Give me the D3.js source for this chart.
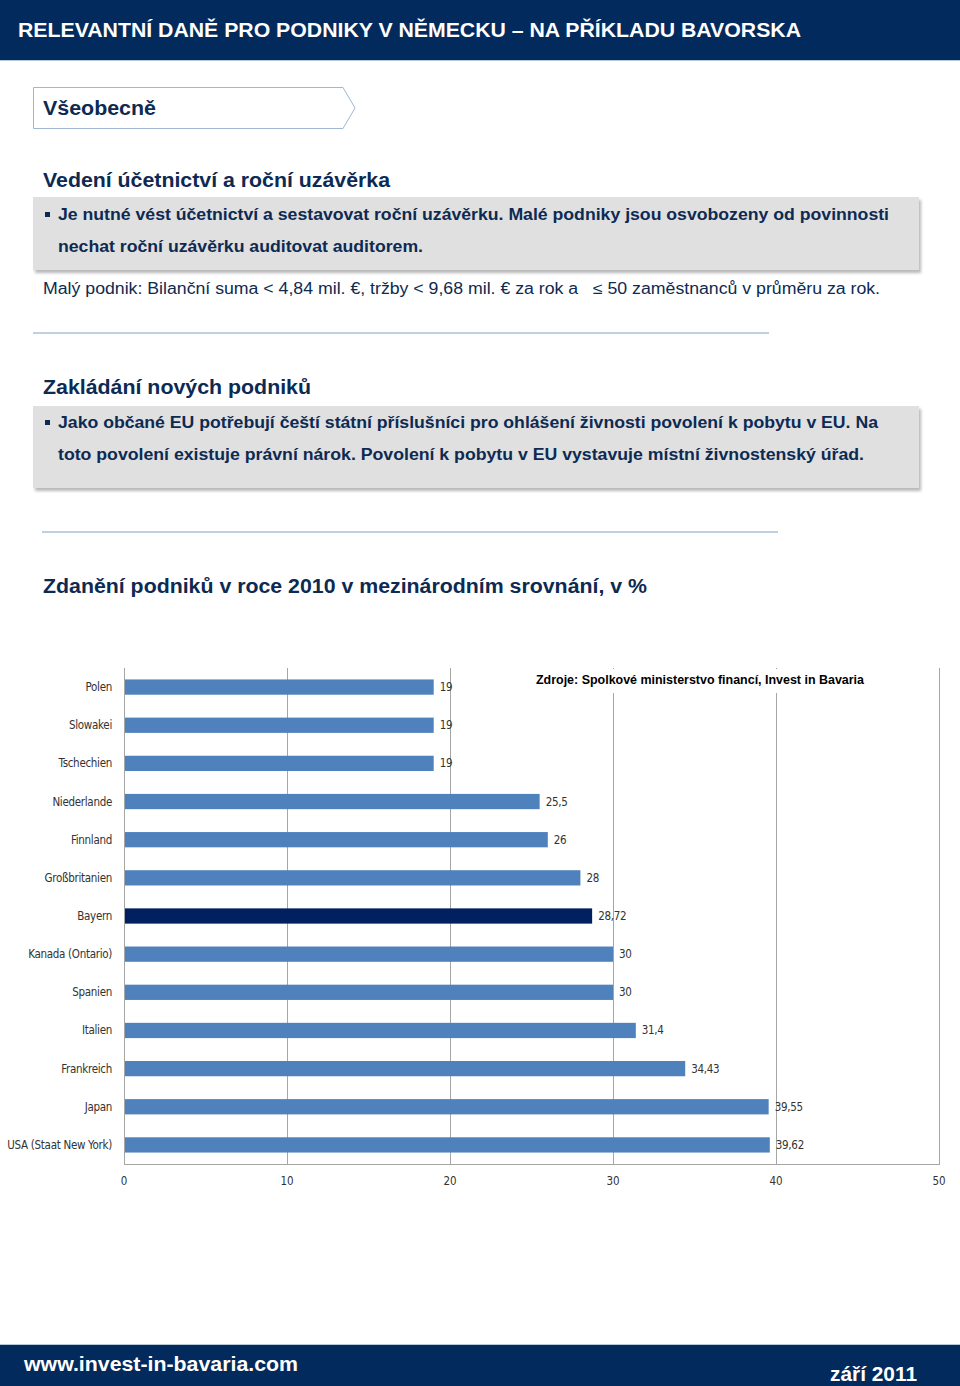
<!DOCTYPE html>
<html><head><meta charset="utf-8">
<script src="https://cdn.jsdelivr.net/npm/d3@7"></script>
<style>
html,body{margin:0;padding:0;background:#fff;}
svg{display:block;font-family:"Liberation Sans",Arial,sans-serif;}
text{white-space:pre;}
</style></head>
<body>
<div id="chart"></div>
<script>
const categories = ["Polen","Slowakei","Tschechien","Niederlande","Finnland","Großbritanien","Bayern","Kanada (Ontario)","Spanien","Italien","Frankreich","Japan","USA (Staat New York)"];
const values = [19,19,19,25.5,26,28,28.72,30,30,31.4,34.43,39.55,39.62];
const highlight = ["Bayern"];
const xTicks = [0,10,20,30,40,50];

const W=960,H=1386;
const navy="#022a5c", textNavy="#0d2a52";
const svg=d3.select("#chart").append("svg").attr("width",W).attr("height",H);

// header
svg.append("rect").attr("x",0).attr("y",0).attr("width",W).attr("height",60).attr("fill",navy);
svg.append("line").attr("x1",0).attr("x2",W).attr("y1",60.5).attr("y2",60.5).attr("stroke","#b9c9dc").attr("stroke-width",1);
svg.append("text").attr("x",18).attr("y",37).attr("fill","#fff").attr("font-size",20).attr("font-weight","bold")
  .attr("textLength",783).attr("lengthAdjust","spacingAndGlyphs")
  .text("RELEVANTNÍ DANĚ PRO PODNIKY V NĚMECKU – NA PŘÍKLADU BAVORSKA");

// Všeobecně box
svg.append("path").attr("d","M33.5,87.5 H343 L355,108 L343,128.5 H33.5 Z").attr("fill","#fff").attr("stroke","#9fb7d3").attr("stroke-width",1);
svg.append("text").attr("x",43).attr("y",115).attr("fill",textNavy).attr("font-size",20).attr("font-weight","bold")
  .attr("textLength",113).attr("lengthAdjust","spacingAndGlyphs").text("Všeobecně");

const defs=svg.append("defs");
defs.append("filter").attr("id","blur").attr("x","-5%").attr("y","-20%").attr("width","110%").attr("height","140%")
  .append("feGaussianBlur").attr("stdDeviation",1.5);

function heading(y,t,len){
  svg.append("text").attr("x",43).attr("y",y).attr("fill",textNavy).attr("font-size",20).attr("font-weight","bold")
   .attr("textLength",len).attr("lengthAdjust","spacingAndGlyphs").text(t);
}
function grayBox(y,h){
  svg.append("rect").attr("x",35).attr("y",y+3).attr("width",886).attr("height",h).attr("fill","#b8b8b8").attr("filter","url(#blur)");
  svg.append("rect").attr("x",33).attr("y",y).attr("width",886).attr("height",h).attr("fill","#e0e0e0");
}
function line(x,y,t,len,bold,size){
  const s=svg.append("text").attr("x",x).attr("y",y).attr("fill",textNavy).attr("font-size",size||16)
   .attr("font-weight",bold?"bold":"normal").attr("xml:space","preserve").text(t);
  if(len) s.attr("textLength",len).attr("lengthAdjust","spacingAndGlyphs");
}
function bullet(x,y){
  svg.append("rect").attr("x",x).attr("y",y-8).attr("width",5).attr("height",5).attr("fill",textNavy);
}

heading(187,"Vedení účetnictví a roční uzávěrka",347);
grayBox(197,73);
bullet(45,220);
line(58,220,"Je nutné vést účetnictví a sestavovat roční uzávěrku. Malé podniky jsou osvobozeny od povinnosti",831,true);
line(58,252,"nechat roční uzávěrku auditovat auditorem.",365,true);
line(43,294,"Malý podnik: Bilanční suma < 4,84 mil. €, tržby < 9,68 mil. € za rok a\u00a0\u00a0\u00a0≤ 50 zaměstnanců v průměru za rok.",837,false);
svg.append("line").attr("x1",33).attr("x2",769).attr("y1",333).attr("y2",333).attr("stroke","#a9c0d9").attr("stroke-width",1.5);

heading(394,"Zakládání nových podniků",268);
grayBox(406,82);
bullet(45,428);
line(58,428,"Jako občané EU potřebují čeští státní příslušníci pro ohlášení živnosti povolení k pobytu v EU. Na",820,true);
line(58,460,"toto povolení existuje právní nárok. Povolení k pobytu v EU vystavuje místní živnostenský úřad.",806,true);
svg.append("line").attr("x1",42).attr("x2",778).attr("y1",532).attr("y2",532).attr("stroke","#a9c0d9").attr("stroke-width",1.5);

heading(593,"Zdanění podniků v roce 2010 v mezinárodním srovnání, v %",604);

// chart
const x=d3.scaleLinear().domain([0,50]).range([124,939]);
const y=d3.scaleBand().domain(categories).range([668,1164]).paddingInner(0.6).paddingOuter(0.3);
const g=svg.append("g");
g.selectAll("line.grid").data(xTicks.filter(d=>d>0)).join("line")
  .attr("x1",d=>Math.round(x(d))+0.5).attr("x2",d=>Math.round(x(d))+0.5)
  .attr("y1",668).attr("y2",1164).attr("stroke","#a6a6a6").attr("stroke-width",1);
g.append("rect").attr("x",530).attr("y",669).attr("width",342).attr("height",24).attr("fill","#fff");
g.append("text").attr("x",536).attr("y",684).attr("font-size",12).attr("font-weight","bold").attr("fill","#000")
  .attr("textLength",328).attr("lengthAdjust","spacingAndGlyphs")
  .text("Zdroje: Spolkové ministerstvo financí, Invest in Bavaria");
g.append("line").attr("x1",124.5).attr("x2",124.5).attr("y1",668).attr("y2",1164).attr("stroke","#a6a6a6");
g.append("line").attr("x1",124).attr("x2",940).attr("y1",1164.5).attr("y2",1164.5).attr("stroke","#a6a6a6");
g.selectAll("rect.bar").data(categories).join("rect")
  .attr("x",x(0)+1).attr("y",d=>y(d)).attr("height",y.bandwidth())
  .attr("width",(d,i)=>x(values[i])-x(0)-1)
  .attr("fill",d=>highlight.includes(d)?"#002060":"#4f81bd");
const fmt=v=>String(v).replace(".",",");
const lblFont="'DejaVu Sans Condensed','Liberation Sans',sans-serif";
g.selectAll("text.val").data(categories).join("text")
  .attr("x",(d,i)=>x(values[i])+6).attr("y",d=>y(d)+y.bandwidth()/2+4)
  .attr("font-size",11.5).attr("fill","#333").attr("font-family",lblFont)
  .attr("letter-spacing",-0.3)
  .text((d,i)=>fmt(values[i]));
g.selectAll("text.cat").data(categories).join("text")
  .attr("x",112).attr("y",d=>y(d)+y.bandwidth()/2+4).attr("text-anchor","end")
  .attr("font-size",11.5).attr("fill","#333").attr("font-family",lblFont)
  .attr("letter-spacing",-0.3)
  .text(d=>d);
g.selectAll("text.tick").data(xTicks).join("text")
  .attr("x",d=>x(d)).attr("y",1185).attr("text-anchor","middle")
  .attr("font-size",11.5).attr("fill","#333").attr("font-family",lblFont)
  .text(d=>d);

// footer
svg.append("rect").attr("x",0).attr("y",1345).attr("width",W).attr("height",41).attr("fill",navy);
svg.append("line").attr("x1",0).attr("x2",W).attr("y1",1344.5).attr("y2",1344.5).attr("stroke","#b9c9dc");
svg.append("text").attr("x",24).attr("y",1371).attr("fill","#fff").attr("font-size",20).attr("font-weight","bold")
  .attr("textLength",274).attr("lengthAdjust","spacingAndGlyphs").text("www.invest-in-bavaria.com");
svg.append("text").attr("x",917).attr("y",1381).attr("fill","#fff").attr("font-size",20).attr("font-weight","bold")
  .attr("text-anchor","end").attr("textLength",87).attr("lengthAdjust","spacingAndGlyphs").text("září 2011");
</script>
</body></html>
